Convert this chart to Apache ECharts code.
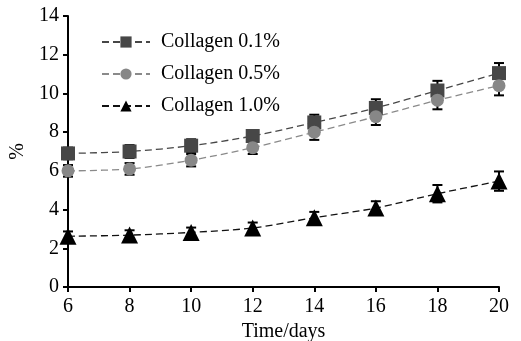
<!DOCTYPE html>
<html>
<head>
<meta charset="utf-8">
<script src="https://cdn.jsdelivr.net/npm/echarts@6/dist/echarts.min.js"></script>
<style>
  html, body { margin: 0; padding: 0; background: #fff; }
  #chart { width: 521px; height: 341px; }
</style>
</head>
<body>
<div id="chart"></div>
<script>
// 数据
var days = [6, 8, 10, 12, 14, 16, 18, 20];
var c01 = [6.9, 7.0, 7.3, 7.8, 8.5, 9.25, 10.15, 11.05];
var c01Err = [0.3, 0.33, 0.33, 0.3, 0.4, 0.45, 0.5, 0.52];
var c05 = [6.0, 6.1, 6.55, 7.2, 8.0, 8.8, 9.65, 10.4];
var c05Err = [0.3, 0.3, 0.32, 0.33, 0.4, 0.43, 0.47, 0.5];
var c10 = [2.62, 2.68, 2.82, 3.05, 3.58, 4.08, 4.82, 5.47];
var c10Err = [0.25, 0.25, 0.25, 0.28, 0.3, 0.35, 0.45, 0.5];
var yTicks = [0, 2, 4, 6, 8, 10, 12, 14];

var chartDom = document.getElementById("chart");
var myChart = echarts.init(chartDom);
var font = "Liberation Serif";

function errSeries(vals, errs, color) {
  return {
    type: "custom",
    silent: true,
    z: 1,
    data: days.map(function (d, i) {
      return [d, vals[i] - errs[i], vals[i] + errs[i]];
    }),
    renderItem: function (params, api) {
      var lo = api.coord([api.value(0), api.value(1)]);
      var hi = api.coord([api.value(0), api.value(2)]);
      var w = 5;
      var s = { stroke: color, lineWidth: 2 };
      return {
        type: "group",
        children: [
          { type: "line", shape: { x1: lo[0], y1: lo[1], x2: hi[0], y2: hi[1] }, style: s },
          { type: "line", shape: { x1: lo[0] - w, y1: lo[1], x2: lo[0] + w, y2: lo[1] }, style: s },
          { type: "line", shape: { x1: hi[0] - w, y1: hi[1], x2: hi[0] + w, y2: hi[1] }, style: s }
        ]
      };
    }
  };
}

function pairs(vals) {
  return days.map(function (d, i) { return [d, vals[i]]; });
}

var option = {
  animation: false,
  grid: { left: 68, right: 22, top: 16, bottom: 54, containLabel: false, outerBoundsMode: "none" },
  legend: {
    orient: "vertical",
    left: 96,
    top: 27,
    itemGap: 12,
    itemWidth: 48,
    itemHeight: 14,
    textStyle: { fontFamily: font, fontSize: 20, color: "#000", padding: [0, 0, 0, 6] },
    data: ["Collagen 0.1%", "Collagen 0.5%", "Collagen 1.0%"]
  },
  xAxis: {
    type: "value",
    min: 6,
    max: 20,
    interval: 2,
    name: "Time/days",
    nameLocation: "middle",
    nameGap: 34,
    nameTextStyle: { fontFamily: font, fontSize: 20, color: "#000" },
    axisLine: { lineStyle: { color: "#000", width: 2 } },
    axisTick: { length: 5, lineStyle: { color: "#000", width: 2 } },
    axisLabel: { fontFamily: font, fontSize: 20, color: "#000", margin: 10 },
    splitLine: { show: false }
  },
  yAxis: {
    type: "value",
    min: 0,
    max: 14,
    interval: 2,
    name: "%",
    nameLocation: "middle",
    nameGap: 40,
    nameTextStyle: { fontFamily: font, fontSize: 20, color: "#000" },
    axisLine: { show: true, lineStyle: { color: "#000", width: 2 } },
    axisTick: { show: true, length: 5, lineStyle: { color: "#000", width: 2 } },
    axisLabel: {
      fontFamily: font, fontSize: 20, color: "#000", margin: 9,
      formatter: function (v) { return yTicks.indexOf(v) >= 0 ? String(v) : ""; }
    },
    splitLine: { show: false }
  },
  series: [
    errSeries(c01, c01Err, "#000"),
    errSeries(c05, c05Err, "#000"),
    errSeries(c10, c10Err, "#000"),
    {
      name: "Collagen 0.1%",
      type: "line",
      data: pairs(c01),
      smooth: 0.3,
      symbol: "rect",
      symbolSize: 14,
      z: 3,
      itemStyle: { color: "#474747" },
      lineStyle: { color: "#474747", width: 1.3, type: [7, 4] }
    },
    {
      name: "Collagen 0.5%",
      type: "line",
      data: pairs(c05),
      smooth: 0.3,
      symbol: "circle",
      symbolSize: 13,
      z: 3,
      itemStyle: { color: "#878787" },
      lineStyle: { color: "#8a8a8a", width: 1.3, type: [7, 4] }
    },
    {
      name: "Collagen 1.0%",
      type: "line",
      data: pairs(c10),
      smooth: 0.3,
      symbol: "triangle",
      symbolSize: 17,
      z: 3,
      itemStyle: { color: "#000" },
      lineStyle: { color: "#111", width: 1.3, type: [7, 4] }
    }
  ]
};

option && myChart.setOption(option);
</script>
</body>
</html>
